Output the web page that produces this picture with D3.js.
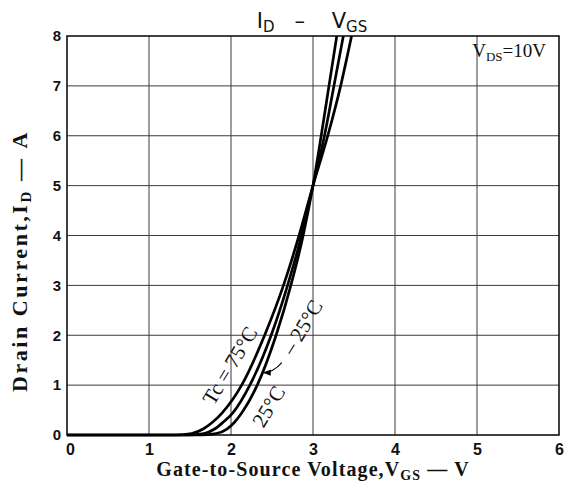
<!DOCTYPE html>
<html>
<head>
<meta charset="utf-8">
<script src="https://cdn.jsdelivr.net/npm/d3@7"></script>
<style>
html,body{margin:0;padding:0;background:#fff;}
svg{display:block;}
</style>
</head>
<body>
<svg id="chart" width="572" height="488"></svg>
<script>
// ---- data (V_GS in volts, I_D in amperes) ----
const xTicks = [0, 1, 2, 3, 4, 5, 6];
const yTicks = [0, 1, 2, 3, 4, 5, 6, 7, 8];

const vgs75 = [0, 1.33, 1.52, 1.66, 1.77, 1.89, 2.13, 2.41, 2.64, 2.83, 3.00, 3.18, 3.33, 3.47];
const id75  = [0, 0,    0.03, 0.12, 0.25, 0.44, 1,    2,    3,    4,    5,    6,    6.95, 8];

const vgs25 = [0, 1.48, 1.67, 1.80, 1.90, 2.02, 2.23, 2.49, 2.69, 2.86, 3.00, 3.14, 3.25, 3.37];
const id25  = [0, 0,    0.03, 0.12, 0.25, 0.44, 1,    2,    3,    4,    5,    6,    6.95, 8];

const vgsM25 = [0, 1.63, 1.82, 1.95, 2.04, 2.13, 2.32, 2.55, 2.73, 2.88, 3.00, 3.10, 3.19, 3.29];
const idM25  = [0, 0,    0.03, 0.12, 0.25, 0.44, 1,    2,    3,    4,    5,    6,    6.95, 8];

// ---- layout ----
const svg = d3.select("#chart");
const L = 67, R = 559, T = 36, B = 435;
const x = d3.scaleLinear().domain([0, 6]).range([L, R]);
const y = d3.scaleLinear().domain([0, 8]).range([B, T]);

// grid
const g = svg.append("g");
g.selectAll("line.vg").data(xTicks.slice(1, -1)).enter().append("line")
  .attr("x1", d => x(d)).attr("x2", d => x(d)).attr("y1", T).attr("y2", B)
  .attr("stroke", "#3a3a3a").attr("stroke-width", 1);
g.selectAll("line.hg").data(yTicks.slice(1, -1)).enter().append("line")
  .attr("x1", L).attr("x2", R).attr("y1", d => y(d)).attr("y2", d => y(d))
  .attr("stroke", "#3a3a3a").attr("stroke-width", 1);

// border
svg.append("rect").attr("x", L).attr("y", T).attr("width", R - L).attr("height", B - T)
  .attr("fill", "none").attr("stroke", "#111").attr("stroke-width", 1.6);

// axes tick labels via d3 axes
const xAxis = d3.axisBottom(x).tickValues(xTicks).tickSize(0).tickPadding(9).tickFormat(d3.format("d"));
const xg = svg.append("g").attr("transform", `translate(0,${B})`).call(xAxis);
xg.select(".domain").remove();
xg.selectAll("text").attr("font-family", "Liberation Sans, Arial, sans-serif")
  .attr("font-weight", "bold").attr("font-size", 16).attr("fill", "#111");
xg.selectAll("text").filter(d => d === 0).attr("dx", 3);

const yAxis = d3.axisLeft(y).tickValues(yTicks).tickSize(0).tickPadding(6).tickFormat(d3.format("d"));
const yg = svg.append("g").attr("transform", `translate(${L},0)`).call(yAxis);
yg.select(".domain").remove();
yg.selectAll("text").attr("font-family", "Liberation Sans, Arial, sans-serif")
  .attr("font-weight", "bold").attr("font-size", 15).attr("fill", "#111");

// curves
const series = [
  vgs75.map((v, i) => [v, id75[i]]),
  vgs25.map((v, i) => [v, id25[i]]),
  vgsM25.map((v, i) => [v, idM25[i]])
];
const line = d3.line().x(d => x(d[0])).y(d => y(d[1])).curve(d3.curveMonotoneX);
svg.append("defs").append("clipPath").attr("id", "clip")
  .append("rect").attr("x", L).attr("y", T).attr("width", R - L).attr("height", B - T + 2);
svg.append("g").attr("clip-path", "url(#clip)")
  .selectAll("path").data(series).enter().append("path")
  .attr("d", line).attr("fill", "none").attr("stroke", "#000")
  .attr("stroke-width", 2.7).attr("stroke-linejoin", "round");

// helper: spread a text to a target width with letter-spacing
function fitWidth(sel, target) {
  const node = sel.node();
  const w = node.getBBox().width;
  const n = node.textContent.length;
  const cur = parseFloat(sel.attr("letter-spacing") || 0);
  sel.attr("letter-spacing", cur + (target - w) / n);
}

// title
const title = svg.append("text").attr("x", 312).attr("y", 28).attr("text-anchor", "middle")
  .attr("font-family", "DejaVu Sans, Verdana, sans-serif").attr("font-size", 21).attr("fill", "#111");
title.append("tspan").text("I");
title.append("tspan").attr("font-size", 15).attr("dy", 4).text("D");
title.append("tspan").attr("dy", -4).text("\u00a0\u00a0\u00a0–\u00a0\u00a0\u00a0\u00a0V");
title.append("tspan").attr("font-size", 15).attr("dy", 4).text("GS");

// VDS annotation
const vds = svg.append("text").attr("x", 546).attr("y", 57).attr("text-anchor", "end")
  .attr("font-family", "Liberation Serif, Times New Roman, serif").attr("font-size", 19).attr("fill", "#111");
vds.append("tspan").text("V");
vds.append("tspan").attr("font-size", 13).attr("dy", 4).text("DS");
vds.append("tspan").attr("dy", -4).text("=10V");

// axis titles
const xt = svg.append("text").attr("x", 313).attr("y", 476).attr("text-anchor", "middle")
  .attr("font-family", "Liberation Serif, Times New Roman, serif").attr("font-weight", "bold")
  .attr("font-size", 20).attr("fill", "#111");
xt.append("tspan").text("Gate-to-Source Voltage,V");
xt.append("tspan").attr("font-size", 14).attr("dy", 4).text("GS");
xt.append("tspan").attr("dy", -4).text("\u00a0— V");
fitWidth(xt, 314);

const yt = svg.append("text").attr("transform", `translate(27,261) rotate(-90)`)
  .attr("text-anchor", "middle")
  .attr("font-family", "Liberation Serif, Times New Roman, serif").attr("font-weight", "bold")
  .attr("font-size", 22).attr("fill", "#111");
yt.append("tspan").text("Drain Current,I");
yt.append("tspan").attr("font-size", 15).attr("dy", 4).text("D");
yt.append("tspan").attr("dy", -4).text("\u00a0—\u00a0A");
fitWidth(yt, 262);

// curve labels
const labelFont = "Liberation Serif, Times New Roman, serif";
function curveLabel(v, i, txt) {
  svg.append("text").attr("transform", `translate(${x(v)},${y(i)}) rotate(-59)`)
    .attr("text-anchor", "middle").attr("dominant-baseline", "central")
    .attr("font-family", labelFont).attr("font-size", 21).attr("fill", "#111").text(txt);
}
curveLabel(1.987, 1.39, "Tc = 75°C");
curveLabel(2.46, 0.57, "25°C");
curveLabel(2.87, 2.16, "– 25°C");

// leader arrow for -25°C
svg.append("defs").append("marker").attr("id", "arr").attr("viewBox", "0 0 10 10")
  .attr("refX", 9).attr("refY", 5).attr("markerWidth", 7).attr("markerHeight", 7)
  .attr("orient", "auto").append("path").attr("d", "M0,1 L10,5 L0,9 Z").attr("fill", "#000");
const ax0 = x(2.62), ay0 = y(1.45), ax1 = x(2.40), ay1 = y(1.25);
svg.append("path")
  .attr("d", `M${ax0},${ay0} Q${(ax0 + ax1) / 2},${ay1} ${ax1},${ay1}`)
  .attr("fill", "none").attr("stroke", "#000").attr("stroke-width", 1.1)
  .attr("marker-end", "url(#arr)");
</script>
</body>
</html>
